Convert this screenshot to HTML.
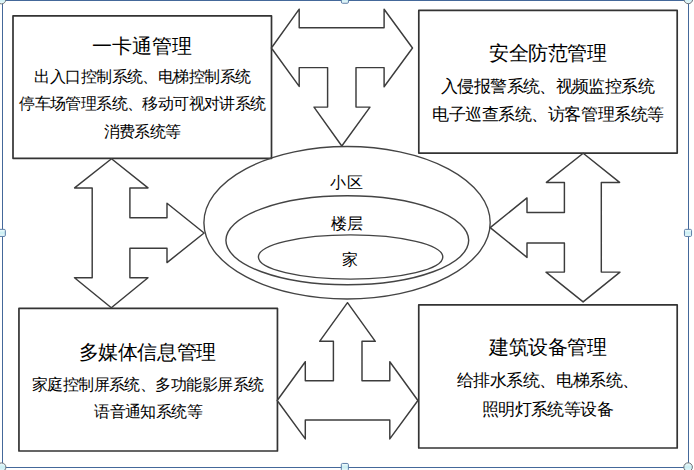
<!DOCTYPE html>
<html><head><meta charset="utf-8"><style>
html,body{margin:0;padding:0;background:#fff;width:694px;height:470px;overflow:hidden}
svg{position:absolute;left:0;top:0;display:block}
text{font-family:"Liberation Sans",sans-serif;fill:#000}
</style></head><body>
<svg width="694" height="470" viewBox="0 0 694 470">
<defs><linearGradient id="hg" x1="0" y1="0" x2="0" y2="1"><stop offset="0" stop-color="#f4fcfd"/><stop offset="0.5" stop-color="#c9eef3"/><stop offset="1" stop-color="#eefafc"/></linearGradient></defs>
<rect x="13" y="15.9" width="258.50" height="142.40" fill="#fff" stroke="#333" stroke-width="1.7" stroke-linejoin="round"/>
<rect x="418.8" y="10.4" width="258.40" height="142.70" fill="#fff" stroke="#333" stroke-width="1.7" stroke-linejoin="round"/>
<rect x="18.95" y="308.4" width="258.50" height="142.60" fill="#fff" stroke="#333" stroke-width="1.7" stroke-linejoin="round"/>
<rect x="418.75" y="304.9" width="258.45" height="143.10" fill="#fff" stroke="#333" stroke-width="1.7" stroke-linejoin="round"/>
<polygon points="271.4,48 299.2,9.2 299.2,27.8 384.1,27.8 384.1,9.2 412.5,48 384.1,86.8 384.1,67.6 356,67.6 356,107.1 370,107.1 341.8,146 314,107.1 327.6,107.1 327.6,67.6 299.2,67.6 299.2,86.4" fill="#fff" stroke="#3c3c3c" stroke-width="1.45" stroke-linejoin="round"/>
<polygon points="111.5,158.7 148,187.9 129.9,187.9 129.9,217.8 167,217.8 167,203.2 204.1,233 167,262.6 167,248.2 129.9,248.2 129.9,277.7 148,277.7 111.3,307.7 74.5,277.7 92.2,277.7 92.2,187.9 74.6,187.9" fill="#fff" stroke="#3c3c3c" stroke-width="1.45" stroke-linejoin="round"/>
<polygon points="583.2,153.3 619.6,182.4 601.3,182.4 601.3,272.1 620,272.1 583.1,301.9 546,272.1 564.4,272.1 564.4,243 527,243 527,257.4 490.2,227.6 527,197.9 527,212.5 564.4,212.5 564.4,182.4 546.4,182.4" fill="#fff" stroke="#3c3c3c" stroke-width="1.45" stroke-linejoin="round"/>
<polygon points="347.5,302.7 375.3,341.3 362,341.3 362,380.8 389.8,380.8 389.8,361.7 417.9,400.5 389.8,438.9 389.8,420 305.3,420 305.3,438.9 277.2,400.5 305.3,361.7 305.3,380.8 333.4,380.8 333.4,341.3 319.6,341.3" fill="#fff" stroke="#3c3c3c" stroke-width="1.45" stroke-linejoin="round"/>
<ellipse cx="347.05" cy="222.75" rx="143.15" ry="76.25" fill="none" stroke="#444" stroke-width="1.4"/>
<ellipse cx="347.3" cy="240.3" rx="121.4" ry="44.5" fill="none" stroke="#444" stroke-width="1.4"/>
<ellipse cx="350.6" cy="257" rx="92.2" ry="22.1" fill="none" stroke="#444" stroke-width="1.4"/>
<text x="141.93" y="52.7" font-size="20" letter-spacing="-0.15" text-anchor="middle">一卡通管理</text>
<text x="142.43" y="81.96" font-size="16" letter-spacing="-0.54" text-anchor="middle">出入口控制系统、电梯控制系统</text>
<text x="142.40" y="109.31" font-size="16" letter-spacing="-0.6" text-anchor="middle">停车场管理系统、移动可视对讲系统</text>
<text x="142.03" y="137.41" font-size="16" letter-spacing="-0.95" text-anchor="middle">消费系统等</text>
<text x="547.81" y="59.6" font-size="20" letter-spacing="-0.38" text-anchor="middle">安全防范管理</text>
<text x="547.49" y="91.65" font-size="17" letter-spacing="-0.62" text-anchor="middle">入侵报警系统、视频监控系统</text>
<text x="547.96" y="120.04" font-size="17" letter-spacing="-0.48" text-anchor="middle">电子巡查系统、访客管理系统等</text>
<text x="147.28" y="359.1" font-size="20" letter-spacing="-0.45" text-anchor="middle">多媒体信息管理</text>
<text x="147.62" y="389.61" font-size="16" letter-spacing="-0.55" text-anchor="middle">家庭控制屏系统、多功能影屏系统</text>
<text x="148.22" y="416.76" font-size="16" letter-spacing="-0.55" text-anchor="middle">语音通知系统等</text>
<text x="547.78" y="353.7" font-size="20" letter-spacing="-0.44" text-anchor="middle">建筑设备管理</text>
<text x="547.78" y="385.69" font-size="17" letter-spacing="-0.44" text-anchor="middle">给排水系统、电梯系统、</text>
<text x="547.50" y="415.44" font-size="17" letter-spacing="-0.6" text-anchor="middle">照明灯系统等设备</text>
<text x="346.85" y="188.01" font-size="16" letter-spacing="0.5" text-anchor="middle">小区</text>
<text x="347.10" y="228.51" font-size="16" letter-spacing="0" text-anchor="middle">楼层</text>
<text x="349.60" y="264.61" font-size="16" letter-spacing="0" text-anchor="middle">家</text>
<rect x="2.5" y="0.5" width="686" height="467" fill="none" stroke="#44689a" stroke-width="1"/>
<circle cx="1.5" cy="-0.4" r="4.3" fill="url(#hg)" stroke="#6b7178" stroke-width="1"/>
<circle cx="688.3" cy="-0.6" r="4.3" fill="url(#hg)" stroke="#6b7178" stroke-width="1"/>
<circle cx="1.6" cy="467.2" r="4.3" fill="url(#hg)" stroke="#6b7178" stroke-width="1"/>
<circle cx="688.1" cy="467.1" r="4.3" fill="url(#hg)" stroke="#6b7178" stroke-width="1"/>
<rect x="-1.7499999999999998" y="229.35" width="7.1" height="7.1" rx="1.2" fill="url(#hg)" stroke="#5d7fa8" stroke-width="1"/>
<rect x="684.45" y="229.35" width="7.1" height="7.1" rx="1.2" fill="url(#hg)" stroke="#5d7fa8" stroke-width="1"/>
<rect x="341.34999999999997" y="-3.8499999999999996" width="7.1" height="7.1" rx="1.2" fill="url(#hg)" stroke="#5d7fa8" stroke-width="1"/>
<rect x="341.3" y="463.45" width="7.1" height="7.1" rx="1.2" fill="url(#hg)" stroke="#5d7fa8" stroke-width="1"/>
</svg>
</body></html>
